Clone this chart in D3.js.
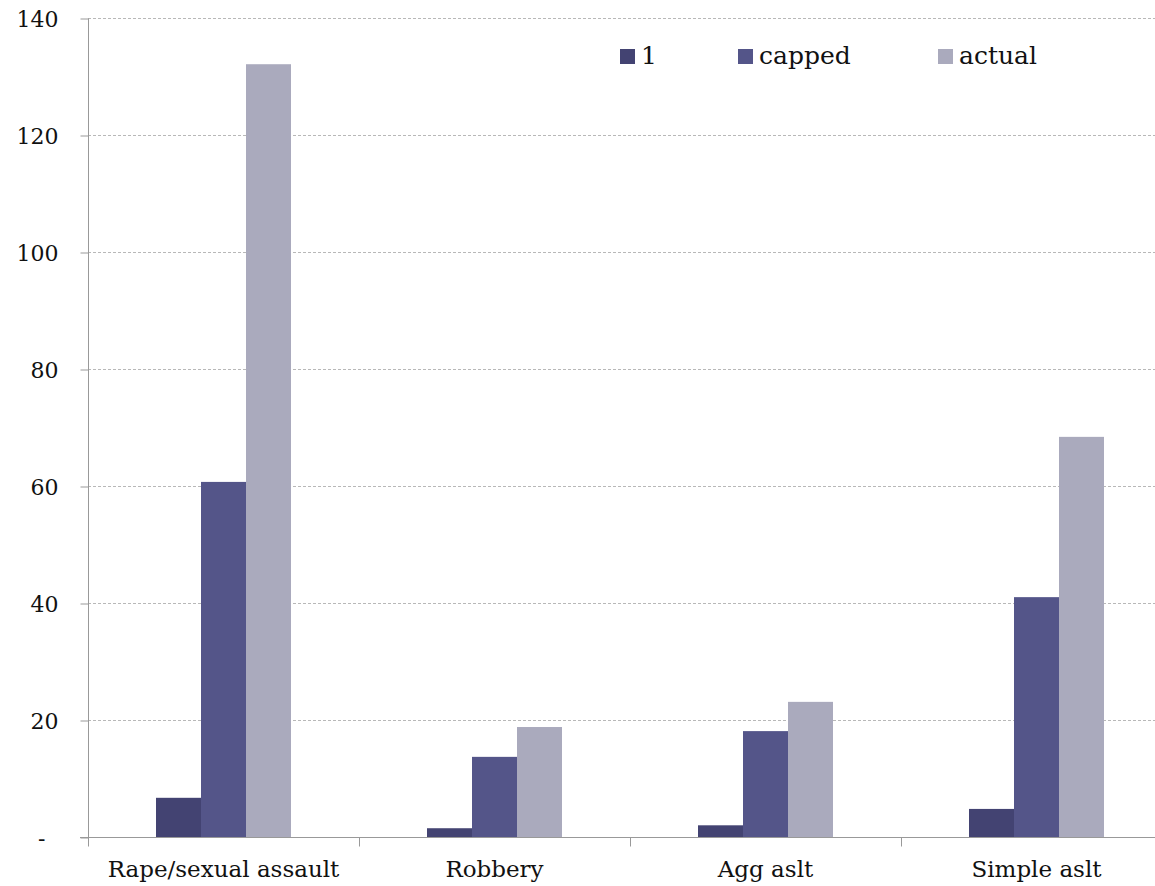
<!DOCTYPE html>
<html>
<head>
  <meta charset="utf-8">
  <script src="https://d3js.org/d3.v7.min.js"></script>
  <style>
    body { margin: 0; background: #fff; }
    text { font-family: "DejaVu Serif", "Liberation Serif", serif; fill: #111; }
    .grid line { stroke: #b8b8b8; stroke-dasharray: 3,2; }
  </style>
</head>
<body>
  <script>
    var categories = ["Rape/sexual assault", "Robbery", "Agg aslt", "Simple aslt"];
    var seriesNames = ["1", "capped", "actual"];
    var seriesOne = [6.7, 1.5, 2.0, 4.8];
    var seriesCapped = [60.7, 13.7, 18.1, 41.0];
    var seriesActual = [132.1, 18.8, 23.1, 68.4];
    var yTicks = [0, 20, 40, 60, 80, 100, 120, 140];
    var colors = ["#434372", "#545589", "#aaaabd"];

    var allSeries = [seriesOne, seriesCapped, seriesActual];

    var width = 1155, height = 886;
    var margin = {top: 18, left: 88, bottom: 49};
    var plotRight = 88 + 4 * 271;

    var svg = d3.select("body").append("svg")
        .attr("width", width)
        .attr("height", height);

    var x = d3.scaleBand().domain(categories).range([margin.left, plotRight]);
    var xs = d3.scaleBand().domain(seriesNames).range([0, 135]);
    var y = d3.scaleLinear().domain([0, 140]).range([height - margin.bottom, margin.top]);

    // gridlines
    svg.append("g")
        .attr("class", "grid")
        .selectAll("line")
        .data(yTicks.slice(1))
        .join("line")
        .attr("x1", margin.left)
        .attr("x2", plotRight)
        .attr("y1", d => y(d) + 0.5)
        .attr("y2", d => y(d) + 0.5);

    // bars
    var groups = svg.append("g").selectAll("g")
        .data(categories)
        .join("g")
        .attr("transform", d => "translate(" + (x(d) + (x.bandwidth() - 135) / 2) + ",0)");

    groups.selectAll("rect")
        .data((c, i) => seriesNames.map((s, j) => ({s: s, v: allSeries[j][i], j: j})))
        .join("rect")
        .attr("x", d => xs(d.s))
        .attr("width", xs.bandwidth())
        .attr("y", d => y(d.v))
        .attr("height", d => y(0) - y(d.v))
        .attr("fill", d => colors[d.j]);

    // y axis
    var yAxis = d3.axisLeft(y)
        .tickValues(yTicks)
        .tickSize(8)
        .tickPadding(22)
        .tickFormat(d => d === 0 ? "-" : d);
    var yg = svg.append("g")
        .attr("transform", "translate(" + (margin.left + 0.5) + ",0.5)")
        .call(yAxis);
    yg.select(".domain").attr("stroke", "#999").attr("d", "M0," + y(140) + "V" + y(0));
    yg.selectAll(".tick line").attr("stroke", "#999");
    yg.selectAll(".tick text")
        .style("font-size", "22px")
        .attr("dy", "0.35em")
        .attr("dx", d => d === 0 ? -13 : 0);

    // x axis
    var xg = svg.append("g")
        .attr("transform", "translate(0," + (y(0) + 0.5) + ")");
    xg.append("line")
        .attr("x1", margin.left - 8)
        .attr("x2", plotRight)
        .attr("stroke", "#999");
    xg.selectAll(".sep")
        .data(d3.range(categories.length + 1))
        .join("line")
        .attr("class", "sep")
        .attr("x1", i => margin.left + i * x.bandwidth() + 0.5)
        .attr("x2", i => margin.left + i * x.bandwidth() + 0.5)
        .attr("y1", 0)
        .attr("y2", 9)
        .attr("stroke", "#999");
    xg.selectAll(".lab")
        .data(categories)
        .join("text")
        .attr("class", "lab")
        .attr("x", d => x(d) + x.bandwidth() / 2)
        .attr("y", 39)
        .attr("text-anchor", "middle")
        .style("font-size", "23px")
        .text(d => d);

    // legend
    var legendX = [620, 738, 938];
    var leg = svg.append("g").selectAll("g")
        .data(seriesNames)
        .join("g")
        .attr("transform", (d, i) => "translate(" + legendX[i] + ",49)");
    leg.append("rect")
        .attr("width", 15)
        .attr("height", 15)
        .attr("fill", (d, i) => colors[i]);
    leg.append("text")
        .attr("x", 21)
        .attr("y", 15)
        .style("font-size", "25px")
        .text(d => d);
  </script>
</body>
</html>
